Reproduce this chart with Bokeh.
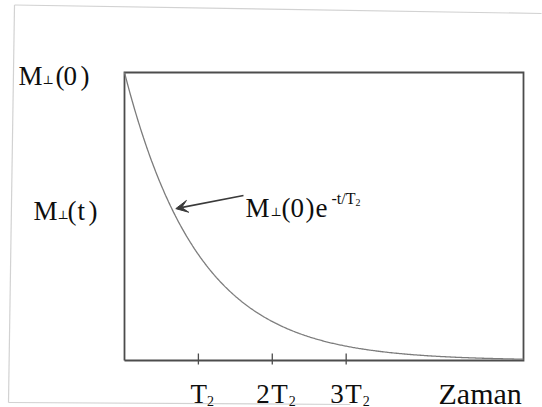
import numpy as np
from bokeh.plotting import figure
from bokeh.models import Range1d, Label, Arrow, VeeHead
from bokeh.embed import file_html
from bokeh.resources import INLINE

# Transverse magnetisation decay M_perp(t) = M_perp(0) * exp(-t / T2)
M0 = 1.0                      # M_perp(0), normalised
T2 = 1.0                      # time unit on the x axis
t_end = 5.4                   # time window shown, in units of T2
tick_multiples = [1, 2, 3]    # ticks at T2, 2T2, 3T2
tick_prefix = ["", "2", "3"]  # coefficient written before "T2"

t = np.linspace(0.0, t_end, 400)
m = M0 * np.exp(-t / T2)

# page and box geometry (pixels); the plotting area spans the whole page
W, H = 542, 407
BOX_L, BOX_R, BOX_T, BOX_B = 124, 523, 72, 360
PX_T = (BOX_R - BOX_L) / t_end
PX_M = (BOX_B - BOX_T) / M0

INK = "#0e0e0e"
FRAME = "#4c4c4c"
SERIF = "Liberation Serif"
SYMBOL = "DejaVu Serif"


def tx(sx):
    return (sx - BOX_L) / PX_T


def ty(sy):
    return (BOX_B - sy) / PX_M


p = figure(width=W, height=H, x_range=Range1d(tx(0), tx(W)), y_range=Range1d(ty(H), ty(0)),
           output_backend="svg", toolbar_location=None,
           x_axis_location=None, y_axis_location=None,
           min_border=0)
p.grid.visible = False
p.outline_line_color = None
p.background_fill_color = "white"
p.border_fill_color = "white"

# plot box
p.line([0, t_end, t_end, 0, 0], [0, 0, M0, M0, 0], line_color=FRAME, line_width=1.8,
       line_join="miter")

# ticks at multiples of T2, crossing the time axis
tick_x = [k * T2 for k in tick_multiples]
p.segment(x0=tick_x, y0=[7 / PX_M] * 3, x1=tick_x, y1=[-4 / PX_M] * 3,
          line_color=FRAME, line_width=1.3)

# decay curve
p.line(t, m, line_color="#7c7c7c", line_width=1.3)


def put(text, sx, sy, size, font=SERIF, x=None, x_offset=0):
    p.add_layout(Label(x=tx(sx) if x is None else x, y=ty(sy), x_offset=x_offset,
                       text=text, text_font=font, text_font_size=f"{size}px",
                       text_color=INK, text_baseline="alphabetic", text_align="left"))


# M_perp(0) at the top of the vertical scale
put("M", 18, 75, 27)
put("⊥", 42, 79, 12, font=SYMBOL)
put("(", 55, 75, 27)
put("0", 63, 75, 27)
put(")", 80, 75, 27)

# M_perp(t) beside the curve
put("M", 33, 210, 27)
put("⊥", 57, 214, 12, font=SYMBOL)
put("(", 67, 210, 27)
put("t", 77, 210, 27)
put(")", 88, 210, 27)

# formula label with arrow pointing at the curve
put("M", 245, 207, 27)
put("⊥", 270, 211, 12, font=SYMBOL)
put("(", 281, 207, 27)
put("0", 290, 207, 27)
put(")", 305, 207, 27)
put("e", 315, 207, 27)
put("-t/T", 331, 198, 16)
put("2", 355, 202, 10)

t_tip = 0.64
p.add_layout(Arrow(end=VeeHead(size=12, fill_color="#3a3a3a", line_color="#3a3a3a"),
                   x_start=tx(243), y_start=ty(195),
                   x_end=t_tip * T2 + 4 / PX_T, y_end=M0 * np.exp(-t_tip),
                   line_color="#3a3a3a", line_width=1.6))

# tick labels: T2, 2T2, 3T2
for k, pre in zip(tick_multiples, tick_prefix):
    if pre:
        put(pre, 0, 393, 27, x=k * T2, x_offset=-16)
        put("T", 0, 393, 27, x=k * T2, x_offset=-1)
        put("2", 0, 400, 14, x=k * T2, x_offset=16.5)
    else:
        put("T", 0, 393, 27, x=k * T2, x_offset=-8)
        put("2", 0, 400, 14, x=k * T2, x_offset=8.5)

# time axis title
put("Zaman", 438, 393, 30)

# faint page border around the figure
for (x0, y0, x1, y1) in [(14, 4.5, 541, 13), (14, 4.5, 8, 402), (8, 402, 350, 404)]:
    p.line([tx(x0), tx(x1)], [ty(y0), ty(y1)], line_color="#d2d2d2", line_width=1.2)

open("out.html", "w").write(file_html(p, INLINE))
